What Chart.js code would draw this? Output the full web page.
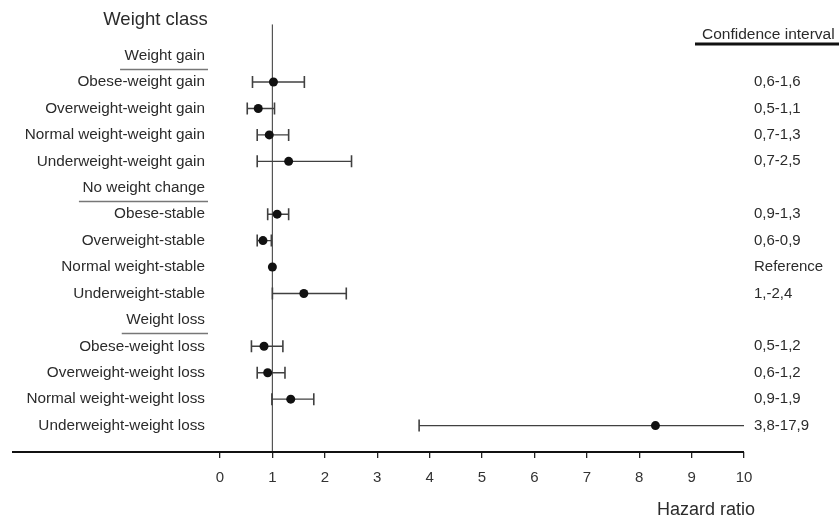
<!DOCTYPE html>
<html>
<head>
<meta charset="utf-8">
<script src="https://cdn.jsdelivr.net/npm/chart.js@4.4.1/dist/chart.umd.min.js"></script>
<style>
    body { margin: 0; background: #ffffff; }
    #caixa { width: 839px; height: 521px; position: relative; }
</style>
</head>
<body>
<div id="caixa"><canvas id="grafico"></canvas></div>
<script>
const rowLabels = [
    'Weight gain',
    'Obese-weight gain',
    'Overweight-weight gain',
    'Normal weight-weight gain',
    'Underweight-weight gain',
    'No weight change',
    'Obese-stable',
    'Overweight-stable',
    'Normal weight-stable',
    'Underweight-stable',
    'Weight loss',
    'Obese-weight loss',
    'Overweight-weight loss',
    'Normal weight-weight loss',
    'Underweight-weight loss'
];
const headerRows = [0, 5, 10];
const hazardRatio = [null, 1.02, 0.73, 0.94, 1.31, null, 1.09, 0.82, 1.0, 1.6, null, 0.84, 0.91, 1.35, 8.31];
const ciLow  = [null, 0.62, 0.52, 0.71, 0.71, null, 0.91, 0.71, null, 1.0, null, 0.6, 0.71, 0.99, 3.8];
const ciHigh = [null, 1.61, 1.04, 1.31, 2.51, null, 1.31, 0.98, null, 2.41, null, 1.2, 1.24, 1.79, 17.9];
const ciLabels = ['', '0,6-1,6', '0,5-1,1', '0,7-1,3', '0,7-2,5', '', '0,9-1,3', '0,6-0,9',
    'Reference', '1,-2,4', '', '0,5-1,2', '0,6-1,2', '0,9-1,9', '3,8-17,9'];
const xTicks = [0, 1, 2, 3, 4, 5, 6, 7, 8, 9, 10];
const referenceHR = 1;
const yMin = -1.19;
const yMax = 15;

const FONTE = '"Liberation Sans", Arial, sans-serif';
const COR_TEXTO = '#2b2b2b';

function rotuloLinha(lista) {
    return (v) => (Number.isInteger(v) && v >= 0 && v < lista.length) ? lista[v] : '';
}

const anotacoes = {
    id: 'anotacoes',
    afterDraw(chart) {
        const { ctx, chartArea, scales } = chart;
        const y = scales.y;
        ctx.save();

        // linha do eixo x, prolongada para a esquerda
        ctx.strokeStyle = '#111';
        ctx.lineWidth = 2;
        ctx.beginPath();
        ctx.moveTo(12, chartArea.bottom);
        ctx.lineTo(chartArea.right, chartArea.bottom);
        ctx.stroke();

        // sublinhado dos grupos
        ctx.font = '15px ' + FONTE;
        ctx.strokeStyle = '#777';
        ctx.lineWidth = 1.3;
        headerRows.forEach((i) => {
            const py = Math.round(y.getPixelForValue(i) + 13.5) + 0.5;
            const xr = y.right - 15;
            const w = ctx.measureText(rowLabels[i]).width;
            ctx.beginPath();
            ctx.moveTo(xr - w - 6, py);
            ctx.lineTo(xr + 3, py);
            ctx.stroke();
        });

        ctx.fillStyle = COR_TEXTO;
        ctx.textBaseline = 'middle';
        ctx.font = '18.5px ' + FONTE;
        ctx.textAlign = 'center';
        ctx.fillText('Weight class', 155.5, 20);

        ctx.font = '18px ' + FONTE;
        ctx.textAlign = 'right';
        ctx.fillText('Hazard ratio', chartArea.right + 11, 510);

        const yCab = scales.y2.getPixelForValue(-1) + 6;
        ctx.font = '15.5px ' + FONTE;
        ctx.textAlign = 'left';
        ctx.fillText('Confidence interval', 702, yCab);
        ctx.strokeStyle = '#111';
        ctx.lineWidth = 3;
        ctx.beginPath();
        ctx.moveTo(695, 44);
        ctx.lineTo(chart.width, 44);
        ctx.stroke();

        ctx.restore();
    }
};

function plotar() {
    const ctx = document.getElementById('grafico').getContext('2d');

    const pontos = hazardRatio
        .map((v, i) => ({ x: v, y: i }))
        .filter((p) => p.x !== null);

    const barras = ciLow
        .map((lo, i) => ({ lo: lo, hi: ciHigh[i], i: i }))
        .filter((b) => b.lo !== null)
        .map((b) => ({
            data: [{ x: b.lo, y: b.i }, { x: b.hi, y: b.i }],
            showLine: true,
            borderColor: '#404040',
            borderWidth: 1.4,
            pointStyle: 'line',
            pointRotation: 90,
            pointRadius: 6,
            pointBorderColor: '#404040',
            pointBorderWidth: 1.6
        }));

    new Chart(ctx, {
        type: 'scatter',
        data: {
            datasets: [
                {
                    data: pontos,
                    backgroundColor: '#111',
                    borderColor: '#111',
                    pointRadius: 4.5,
                    pointBorderWidth: 0
                },
                ...barras,
                {
                    data: [{ x: referenceHR, y: yMin }, { x: referenceHR, y: yMax }],
                    showLine: true,
                    borderColor: '#555',
                    borderWidth: 1.2,
                    pointRadius: 0
                }
            ]
        },
        options: {
            animation: false,
            responsive: true,
            maintainAspectRatio: false,
            layout: { padding: { top: 22, left: 0, right: 0, bottom: 0 } },
            plugins: {
                legend: { display: false },
                tooltip: { enabled: false }
            },
            scales: {
                x: {
                    type: 'linear',
                    min: 0,
                    max: 10,
                    afterBuildTicks: (s) => { s.ticks = xTicks.map((v) => ({ value: v })); },
                    afterFit: (s) => { s.height = 69; },
                    ticks: {
                        color: '#333',
                        padding: 11,
                        font: { family: FONTE, size: 15 }
                    },
                    grid: {
                        drawOnChartArea: false,
                        drawTicks: true,
                        tickLength: 6,
                        color: '#222',
                        lineWidth: 1.3
                    },
                    border: { display: false }
                },
                y: {
                    type: 'linear',
                    position: 'left',
                    reverse: true,
                    min: yMin,
                    max: yMax,
                    afterFit: (s) => { s.width = 220; },
                    ticks: {
                        stepSize: 1,
                        autoSkip: false,
                        padding: 15,
                        color: COR_TEXTO,
                        font: { family: FONTE, size: 15.3 },
                        callback: rotuloLinha(rowLabels)
                    },
                    grid: { display: false, drawTicks: false },
                    border: { display: false }
                },
                y2: {
                    type: 'linear',
                    position: 'right',
                    reverse: true,
                    min: yMin,
                    max: yMax,
                    afterFit: (s) => { s.width = 95; },
                    ticks: {
                        stepSize: 1,
                        autoSkip: false,
                        padding: 10,
                        color: COR_TEXTO,
                        font: { family: FONTE, size: 15 },
                        callback: rotuloLinha(ciLabels)
                    },
                    grid: { display: false, drawTicks: false },
                    border: { display: false }
                }
            }
        },
        plugins: [anotacoes]
    });
}

function main() {
    plotar();
}

window.addEventListener('DOMContentLoaded', main);
</script>
</body>
</html>
